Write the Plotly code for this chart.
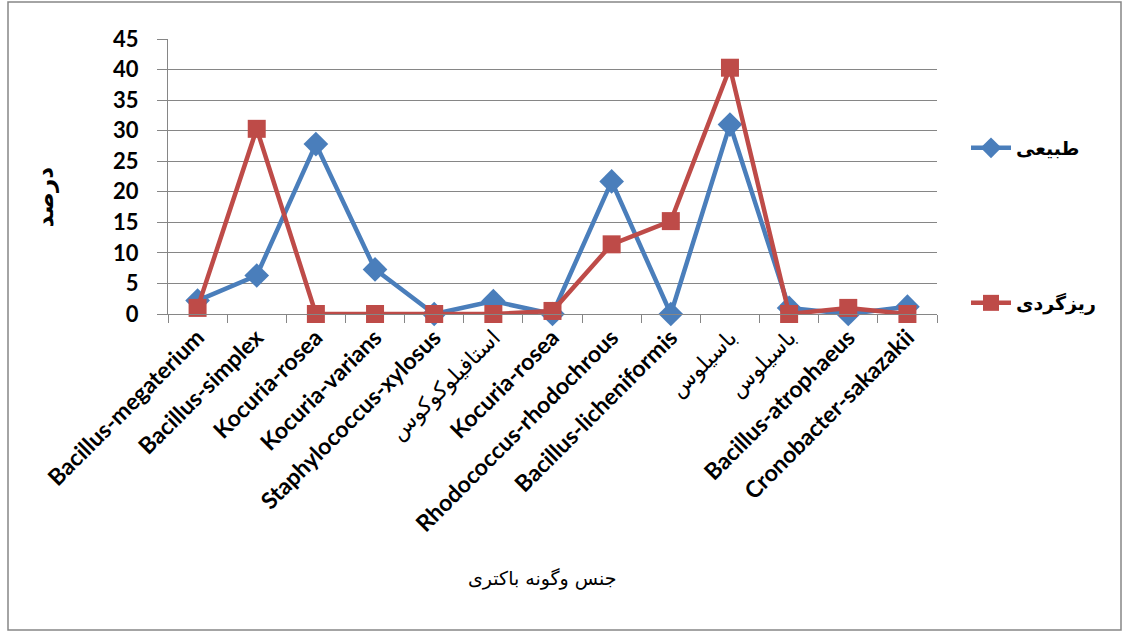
import plotly.graph_objects as go
import re

categories = [
    "Bacillus-megaterium", "Bacillus-simplex", "Kocuria-rosea", "Kocuria-varians",
    "Staphylococcus-xylosus", "استافیلوکوکوس", "Kocuria-rosea", "Rhodococcus-rhodochrous",
    "Bacillus-licheniformis", "باسیلوس", "باسیلوس", "Bacillus-atrophaeus",
    "Cronobacter-sakazakii",
]
natural = [2.2, 6.3, 27.8, 7.3, 0, 2.1, 0, 21.7, 0, 31.0, 1.0, 0, 1.2]
dust = [1.0, 30.3, 0, 0, 0, 0, 0.5, 11.4, 15.2, 40.3, 0, 1.0, 0]
y_ticks = [0, 5, 10, 15, 20, 25, 30, 35, 40, 45]

# make duplicate category names unique (invisible suffix) so each gets its own slot
seen = {}
cats = []
for c in categories:
    n = seen.get(c, 0)
    cats.append(c + "\u200b" * n)
    seen[c] = n + 1

# Latin labels bold, Persian labels regular weight
tick_text = [
    "<span style='font-size:22px;font-family:DejaVu Sans'>" + c + "</span>"
    if re.search("[\u0600-\u06FF]", c)
    else "<b>" + c + "</b>"
    for c in categories
]

W, H = 1132, 638
L, R, T, B = 168, 937, 39, 314
pw, ph = R - L, B - T

def px(x):
    return (x - L) / pw

def py(y):
    return (B - y) / ph

BLUE = "#4A7EBB"
RED = "#BE4B48"
FONT = "Lato, 'DejaVu Sans', sans-serif"
AR = "'DejaVu Sans', sans-serif"

fig = go.Figure()
fig.add_trace(go.Scatter(
    x=cats, y=natural, name="<b>طبیعی</b>", mode="lines+markers",
    line=dict(color=BLUE, width=4.5),
    marker=dict(symbol="diamond", size=19, color=BLUE),
    cliponaxis=False, legend="legend",
))
fig.add_trace(go.Scatter(
    x=cats, y=dust, name="<b>ریزگردی</b>", mode="lines+markers",
    line=dict(color=RED, width=4.5),
    marker=dict(symbol="square", size=18, color=RED),
    cliponaxis=False, legend="legend2",
))

fig.update_layout(
    width=W, height=H,
    margin=dict(l=L, r=W - R, t=T, b=H - B),
    paper_bgcolor="white", plot_bgcolor="white",
    font=dict(family=FONT, color="black"),
    showlegend=True,
    legend=dict(x=px(966), y=py(148), xanchor="left", yanchor="middle",
                font=dict(size=19, family=AR, color="black"), itemwidth=40,
                bgcolor="rgba(0,0,0,0)"),
    legend2=dict(x=px(966), y=py(303), xanchor="left", yanchor="middle",
                 font=dict(size=19, family=AR, color="black"), itemwidth=40,
                 bgcolor="rgba(0,0,0,0)"),
    xaxis=dict(
        type="category", categoryorder="array", categoryarray=cats,
        tickvals=cats, ticktext=tick_text,
        showgrid=False, showline=True, linecolor="#868686", linewidth=1,
        ticks="outside", tickson="boundaries", ticklen=8, tickcolor="#868686",
        tickangle=-45, tickfont=dict(size=23, family=FONT),
        range=[-0.5, len(cats) - 0.5],
    ),
    yaxis=dict(
        range=[0, 45], tickvals=y_ticks, showgrid=True, gridcolor="#868686", gridwidth=1,
        showline=True, linecolor="#868686", linewidth=1,
        ticks="outside", ticklen=10, tickcolor="#868686",
        ticklabelstandoff=14,
        tickfont=dict(size=22, family=FONT, weight="bold"), zeroline=False,
    ),
    shapes=[dict(type="rect", xref="paper", yref="paper",
                 x0=px(8), x1=px(1121), y0=py(630), y1=py(2),
                 line=dict(color="#868686", width=1.5), fillcolor="rgba(0,0,0,0)",
                 layer="below")],
    annotations=[
        dict(text="جنس وگونه باکتری", xref="paper", yref="paper",
             x=px(542), y=py(592), showarrow=False,
             font=dict(size=19, family=AR, color="black")),
        dict(text="<b>درصد</b>", xref="paper", yref="paper",
             x=px(30), y=py(197), showarrow=False, textangle=-90,
             font=dict(size=23, family=AR, color="black")),
    ],
)

fig.write_html("out.html")
